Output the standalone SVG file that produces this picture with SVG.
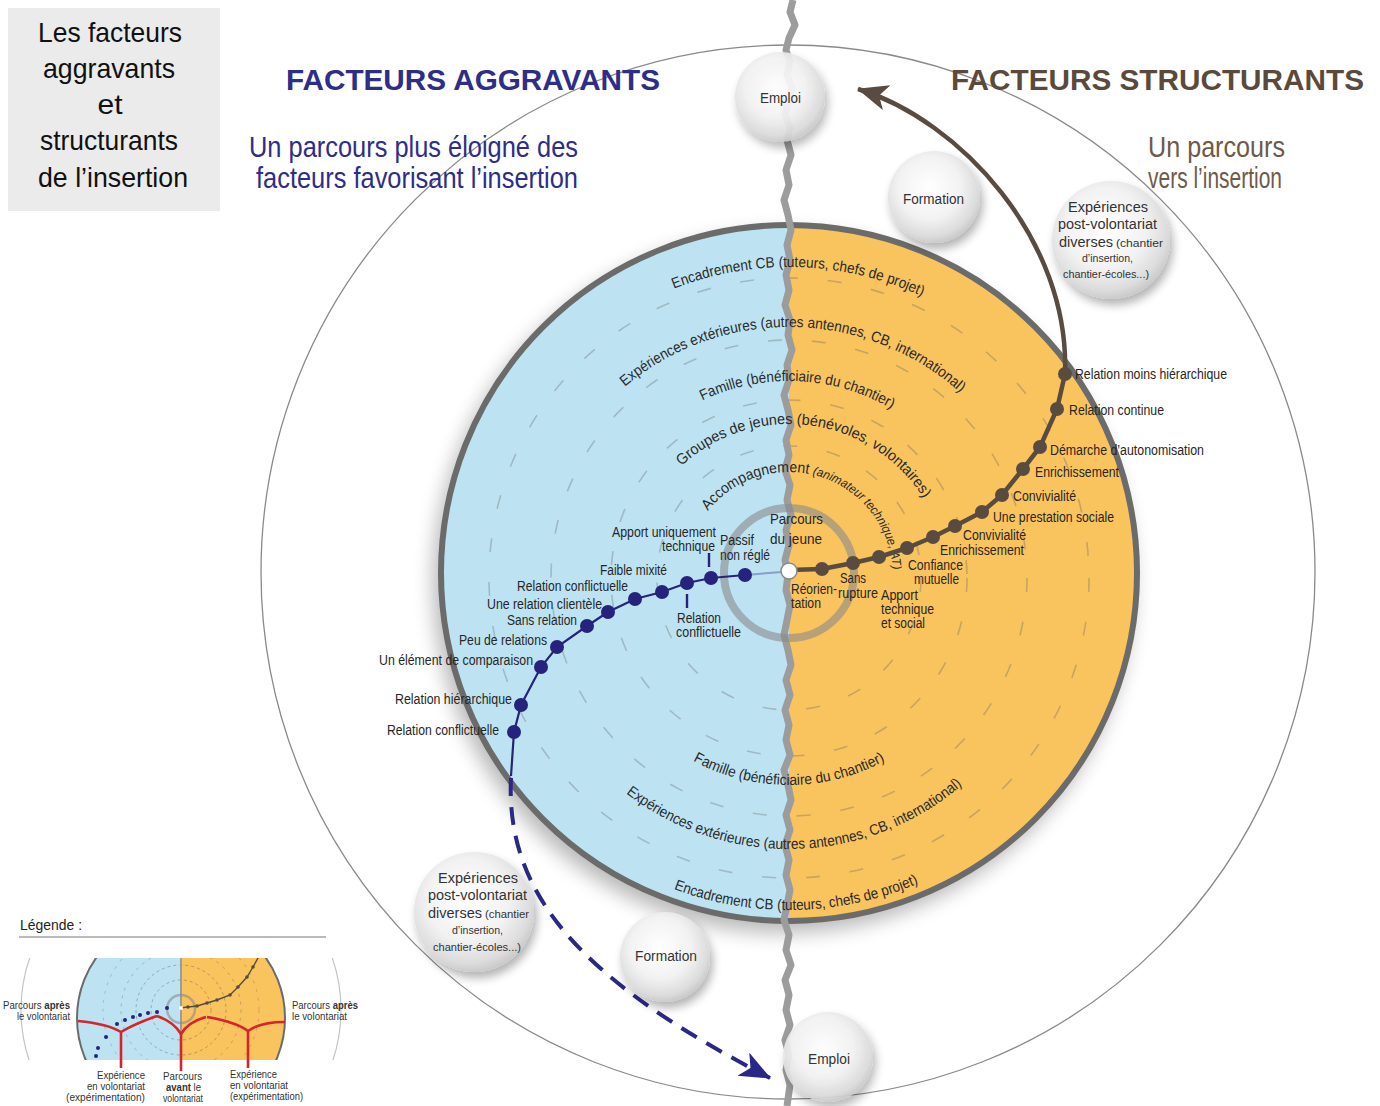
<svg xmlns="http://www.w3.org/2000/svg" width="1380" height="1106" viewBox="0 0 1380 1106">
<defs>
<style>
text{font-family:"Liberation Sans",Arial,sans-serif}
.lbl{font-size:14px;fill:#262626}
.rl{font-size:14px;fill:#2b2521}
.arc{font-size:15px;fill:#2a2a2a}
.bt{font-size:14px;fill:#333}
.bs{font-size:11px;fill:#333}
.ring{fill:none;stroke:#6a6a6a;stroke-opacity:.35;stroke-width:1.6;stroke-dasharray:14 30}
.bub{fill:url(#bg);filter:url(#bsh)}
.nd{fill:#25237b}
.bd{fill:#5a4b40}
.lg{font-size:10px;fill:#333}
.red{fill:none;stroke:#d5252a;stroke-width:2.6}
</style>
<radialGradient id="bg" cx="0.45" cy="0.4" r="0.62">
<stop offset="0" stop-color="#ffffff"/><stop offset="0.55" stop-color="#f2f2f2"/><stop offset="0.85" stop-color="#dcdcdc"/><stop offset="1" stop-color="#c6c6c6"/>
</radialGradient>
<filter id="bsh" x="-40%" y="-40%" width="190%" height="190%">
<feGaussianBlur in="SourceAlpha" stdDeviation="5"/><feOffset dx="3" dy="6"/><feComponentTransfer><feFuncA type="linear" slope="0.3"/></feComponentTransfer>
<feMerge><feMergeNode/><feMergeNode in="SourceGraphic"/></feMerge></filter>
<filter id="dsh" x="-20%" y="-20%" width="140%" height="140%">
<feGaussianBlur stdDeviation="10"/></filter>
<clipPath id="disc"><circle cx="789" cy="573" r="348"/></clipPath>
<clipPath id="mini"><rect x="0" y="958" width="370" height="102"/></clipPath>
<clipPath id="minidisc"><circle cx="181" cy="1018" r="104"/></clipPath>
<path id="tA" d="M473,583 A316,316 0 0 1 1105,583"/>
<path id="tB" d="M533,583 A256,256 0 0 1 1045,583"/>
<path id="tC" d="M587,583 A202,202 0 0 1 991,583"/>
<path id="tD" d="M630,583 A159,159 0 0 1 948,583"/>
<path id="tE" d="M737,666.1 A104,104 0 1 1 841,666.1"/>
<path id="bF" d="M587,583 A202,202 0 0 0 991,583"/>
<path id="bG" d="M523,583 A266,266 0 0 0 1055,583"/>
<path id="bH" d="M462,583 A327,327 0 0 0 1116,583"/>
<marker id="ahB" markerUnits="userSpaceOnUse" markerWidth="34" markerHeight="28" refX="30" refY="13" orient="auto"><path d="M0,0 L31,13 L0,26 L8,13 z" fill="#5a4b40"/></marker>
<marker id="ahN" markerUnits="userSpaceOnUse" markerWidth="34" markerHeight="28" refX="30" refY="13" orient="auto"><path d="M0,0 L31,13 L0,26 L8,13 z" fill="#2a2886"/></marker>
</defs>

<rect width="1380" height="1106" fill="#ffffff"/>

<g id="title-box">
<rect x="8" y="8" width="212" height="203" fill="#ebebeb"/>
<text x="110" y="42" font-size="28" text-anchor="middle" fill="#111" textLength="144" lengthAdjust="spacingAndGlyphs">Les facteurs</text>
<text x="109" y="78" font-size="28" text-anchor="middle" fill="#111" textLength="132" lengthAdjust="spacingAndGlyphs">aggravants</text>
<text x="110" y="114" font-size="28" text-anchor="middle" fill="#111" textLength="25" lengthAdjust="spacingAndGlyphs">et</text>
<text x="109" y="150" font-size="28" text-anchor="middle" fill="#111" textLength="138" lengthAdjust="spacingAndGlyphs">structurants</text>
<text x="113" y="187" font-size="28" text-anchor="middle" fill="#111" textLength="150" lengthAdjust="spacingAndGlyphs">de l’insertion</text>
</g>

<circle id="outer-circle" cx="788" cy="572" r="527" fill="none" stroke="#8a8a8a" stroke-width="1.3"/>

<g id="headings">
<text x="286" y="90" font-size="29" font-weight="bold" fill="#2e2d87" textLength="374" lengthAdjust="spacingAndGlyphs">FACTEURS AGGRAVANTS</text>
<text x="951" y="90" font-size="29" font-weight="bold" fill="#5b4a3c" textLength="413" lengthAdjust="spacingAndGlyphs">FACTEURS STRUCTURANTS</text>
<text x="249" y="157" font-size="29" fill="#2e2d87" textLength="329" lengthAdjust="spacingAndGlyphs">Un parcours plus éloigné des</text>
<text x="256" y="188" font-size="29" fill="#2e2d87" textLength="322" lengthAdjust="spacingAndGlyphs">facteurs favorisant l’insertion</text>
<text x="1148" y="157" font-size="29" fill="#6e5a48" textLength="137" lengthAdjust="spacingAndGlyphs">Un parcours</text>
<text x="1148" y="188" font-size="29" fill="#6e5a48" textLength="134" lengthAdjust="spacingAndGlyphs">vers l’insertion</text>
</g>

<g id="disc">
<circle cx="783" cy="583" r="350" fill="#000" opacity="0.28" filter="url(#dsh)"/>
<g clip-path="url(#disc)">
<rect x="430" y="215" width="359" height="720" fill="#bde3f3"/>
<rect x="789" y="215" width="360" height="720" fill="#f9c35e"/>
<circle class="ring" cx="789" cy="578" r="300"/>
<circle class="ring" cx="789" cy="578" r="238"/>
<circle class="ring" cx="789" cy="578" r="178"/>
<circle class="ring" cx="789" cy="578" r="132"/>
</g>
<circle cx="789" cy="573" r="348" fill="none" stroke="#6b6b6b" stroke-width="6"/>
</g>

<path id="divider" d="M793,0 L790,12 L795,25 L789,38 L786,50 L790,62 L787,75 L792,88 L788,100 L785,115 L790,128 L787,140 L791,155 L786,170 L789,185 L784,200 L788,215 L791,230 L787,245 L790,260 L786,275 L789,290 L785,305 L790,320 L788,335 L792,350 L787,365 L789,380 L784,395 L788,410 L791,425 L786,440 L789,455 L785,470 L790,485 L787,500 L791,515 L786,530 L789,545 L785,560 L788,575 L786,590 L790,605 L787,620 L784,635 L788,650 L791,665 L786,680 L790,695 L785,710 L789,725 L786,740 L790,755 L784,770 L788,785 L791,800 L786,815 L790,830 L785,845 L789,860 L786,875 L790,890 L787,905 L784,920 L789,935 L786,950 L791,965 L785,980 L789,995 L786,1010 L790,1025 L785,1040 L789,1055 L786,1070 L790,1085 L787,1106" fill="none" stroke="#9c9c9c" stroke-width="7" stroke-linejoin="round"/>

<circle id="center-ring" cx="789" cy="573" r="65" fill="none" stroke="#8a8a8a" stroke-opacity="0.6" stroke-width="8"/>

<g id="ring-labels">
<text class="arc"><textPath href="#tA" startOffset="505.8" text-anchor="middle" textLength="255" lengthAdjust="spacingAndGlyphs">Encadrement CB (tuteurs, chefs de projet)</textPath></text>
<text class="arc"><textPath href="#tB" startOffset="406.6" text-anchor="middle" textLength="366" lengthAdjust="spacingAndGlyphs">Expériences extérieures (autres antennes, CB, international)</textPath></text>
<text class="arc"><textPath href="#tC" startOffset="326.1" text-anchor="middle" textLength="197" lengthAdjust="spacingAndGlyphs">Famille (bénéficiaire du chantier)</textPath></text>
<text class="arc"><textPath href="#tD" startOffset="270.8" text-anchor="middle" textLength="279" lengthAdjust="spacingAndGlyphs">Groupes de jeunes (bénévoles, volontaires)</textPath></text>
<text class="arc"><textPath href="#tE" startOffset="304" text-anchor="middle" textLength="250" lengthAdjust="spacingAndGlyphs">Accompagnement <tspan font-size="12.5" font-style="italic">(animateur technique, AT)</tspan></textPath></text>
<text class="arc"><textPath href="#bF" startOffset="317.3" text-anchor="middle" textLength="200" lengthAdjust="spacingAndGlyphs">Famille (bénéficiaire du chantier)</textPath></text>
<text class="arc"><textPath href="#bG" startOffset="424.3" text-anchor="middle" textLength="364" lengthAdjust="spacingAndGlyphs">Expériences extérieures (autres antennes, CB, international)</textPath></text>
<text class="arc"><textPath href="#bH" startOffset="521.1" text-anchor="middle" textLength="251" lengthAdjust="spacingAndGlyphs">Encadrement CB (tuteurs, chefs de projet)</textPath></text>
</g>

<g id="connectors">
<path d="M782,572 L745,575" fill="none" stroke="#25237b" stroke-opacity="0.35" stroke-width="2"/>
<path d="M745,575 L711,578 L687,583 L662,592 L635,599 L608,612 L587,626 L557,647 L541,667 L521,705 L514,732 L511,776" fill="none" stroke="#25237b" stroke-width="2.2"/>
<path d="M511,778 C505,900 590,985 770,1078" fill="none" stroke="#2a2886" stroke-width="4" stroke-dasharray="18 11" marker-end="url(#ahN)"/>
<path d="M709,553 V567 M687,594 V608" fill="none" stroke="#25237b" stroke-width="2.4"/>
<path d="M789,570 L822,569 L853,563 L879,557 L907,548 L933,537 L955,526 L982,512 L1002,495 L1023,469 L1040,447 L1057,409 L1065,374 C1070,240 960,120 858,89" fill="none" stroke="#5a4b40" stroke-width="4.5" stroke-linejoin="round" marker-end="url(#ahB)"/>
</g>

<g id="dots-aggravants">
<circle class="nd" cx="745" cy="575" r="7"/><circle class="nd" cx="711" cy="578" r="7"/><circle class="nd" cx="687" cy="583" r="7"/><circle class="nd" cx="662" cy="592" r="7"/><circle class="nd" cx="635" cy="599" r="7"/><circle class="nd" cx="608" cy="612" r="7"/><circle class="nd" cx="587" cy="626" r="7"/><circle class="nd" cx="557" cy="647" r="7"/><circle class="nd" cx="541" cy="667" r="7"/><circle class="nd" cx="521" cy="705" r="7"/><circle class="nd" cx="514" cy="732" r="7"/>
</g>
<g id="dots-structurants">
<circle class="bd" cx="822" cy="569" r="7"/><circle class="bd" cx="853" cy="563" r="7"/><circle class="bd" cx="879" cy="557" r="7"/><circle class="bd" cx="907" cy="548" r="7"/><circle class="bd" cx="933" cy="537" r="7"/><circle class="bd" cx="955" cy="526" r="7"/><circle class="bd" cx="982" cy="512" r="7"/><circle class="bd" cx="1002" cy="495" r="7"/><circle class="bd" cx="1023" cy="469" r="7"/><circle class="bd" cx="1040" cy="447" r="7"/><circle class="bd" cx="1057" cy="409" r="7"/><circle class="bd" cx="1065" cy="374" r="7"/>
</g>
<circle id="center-dot" cx="789" cy="571" r="8" fill="#fff" stroke="#888" stroke-width="1.5"/>

<g id="center-label">
<text x="770" y="524" font-size="15" fill="#262626" textLength="53" lengthAdjust="spacingAndGlyphs">Parcours</text>
<text x="770" y="544" font-size="15" fill="#262626" textLength="52" lengthAdjust="spacingAndGlyphs">du jeune</text>
</g>

<g id="labels-aggravants">
<text class="lbl" x="600" y="575" textLength="67" lengthAdjust="spacingAndGlyphs">Faible mixité</text>
<text class="lbl" x="517" y="591" textLength="111" lengthAdjust="spacingAndGlyphs">Relation conflictuelle</text>
<text class="lbl" x="487" y="609" textLength="115" lengthAdjust="spacingAndGlyphs">Une relation clientèle</text>
<text class="lbl" x="507" y="625" textLength="70" lengthAdjust="spacingAndGlyphs">Sans relation</text>
<text class="lbl" x="459" y="645" textLength="88" lengthAdjust="spacingAndGlyphs">Peu de relations</text>
<text class="lbl" x="379" y="665" textLength="154" lengthAdjust="spacingAndGlyphs">Un élément de comparaison</text>
<text class="lbl" x="395" y="704" textLength="117" lengthAdjust="spacingAndGlyphs">Relation hiérarchique</text>
<text class="lbl" x="387" y="735" textLength="112" lengthAdjust="spacingAndGlyphs">Relation conflictuelle</text>
<text class="lbl" x="612" y="537" textLength="104" lengthAdjust="spacingAndGlyphs">Apport uniquement</text>
<text class="lbl" x="662" y="551" textLength="53" lengthAdjust="spacingAndGlyphs">technique</text>
<text class="lbl" x="720" y="545" textLength="34" lengthAdjust="spacingAndGlyphs">Passif</text>
<text class="lbl" x="720" y="560" textLength="50" lengthAdjust="spacingAndGlyphs">non réglé</text>
<text class="lbl" x="677" y="623" textLength="44" lengthAdjust="spacingAndGlyphs">Relation</text>
<text class="lbl" x="676" y="637" textLength="65" lengthAdjust="spacingAndGlyphs">conflictuelle</text>
</g>

<g id="labels-structurants">
<text class="rl" x="791" y="594" textLength="46" lengthAdjust="spacingAndGlyphs">Réorien-</text>
<text class="rl" x="791" y="608" textLength="30" lengthAdjust="spacingAndGlyphs">tation</text>
<text class="rl" x="840" y="583" textLength="26" lengthAdjust="spacingAndGlyphs">Sans</text>
<text class="rl" x="838" y="598" textLength="40" lengthAdjust="spacingAndGlyphs">rupture</text>
<text class="rl" x="881" y="600" textLength="37" lengthAdjust="spacingAndGlyphs">Apport</text>
<text class="rl" x="881" y="614" textLength="53" lengthAdjust="spacingAndGlyphs">technique</text>
<text class="rl" x="881" y="628" textLength="44" lengthAdjust="spacingAndGlyphs">et social</text>
<text class="rl" x="908" y="570" textLength="55" lengthAdjust="spacingAndGlyphs">Confiance</text>
<text class="rl" x="914" y="584" textLength="45" lengthAdjust="spacingAndGlyphs">mutuelle</text>
<text class="rl" x="940" y="555" textLength="84" lengthAdjust="spacingAndGlyphs">Enrichissement</text>
<text class="rl" x="963" y="540" textLength="63" lengthAdjust="spacingAndGlyphs">Convivialité</text>
<text class="rl" x="993" y="522" textLength="121" lengthAdjust="spacingAndGlyphs">Une prestation sociale</text>
<text class="rl" x="1013" y="501" textLength="63" lengthAdjust="spacingAndGlyphs">Convivialité</text>
<text class="rl" x="1035" y="477" textLength="84" lengthAdjust="spacingAndGlyphs">Enrichissement</text>
<text class="rl" x="1050" y="455" textLength="154" lengthAdjust="spacingAndGlyphs">Démarche d’autonomisation</text>
<text class="rl" x="1069" y="415" textLength="95" lengthAdjust="spacingAndGlyphs">Relation continue</text>
<text class="rl" x="1075" y="379" textLength="152" lengthAdjust="spacingAndGlyphs">Relation moins hiérarchique</text>
</g>

<g id="bubble-emploi-top">
<circle class="bub" cx="780" cy="97" r="45" fill-opacity="0.92"/>
<text class="bt" x="760" y="103" textLength="41" lengthAdjust="spacingAndGlyphs">Emploi</text>
</g>
<g id="bubble-formation-top">
<circle class="bub" cx="934" cy="197" r="46"/>
<text class="bt" x="903" y="204" textLength="61" lengthAdjust="spacingAndGlyphs">Formation</text>
</g>
<g id="bubble-experiences-top">
<circle class="bub" cx="1111" cy="240" r="59"/>
<text class="bt" x="1068" y="212" textLength="80" lengthAdjust="spacingAndGlyphs">Expériences</text>
<text class="bt" x="1058" y="229" textLength="99" lengthAdjust="spacingAndGlyphs">post-volontariat</text>
<text class="bt" x="1059" y="247" textLength="54" lengthAdjust="spacingAndGlyphs">diverses</text>
<text class="bs" x="1116" y="247" textLength="47" lengthAdjust="spacingAndGlyphs">(chantier</text>
<text class="bs" x="1082" y="262" textLength="51" lengthAdjust="spacingAndGlyphs">d’insertion,</text>
<text class="bs" x="1063" y="278" textLength="86" lengthAdjust="spacingAndGlyphs">chantier-écoles...)</text>
</g>
<g id="bubble-experiences-bottom">
<circle class="bub" cx="474" cy="912" r="60"/>
<text class="bt" x="438" y="883" textLength="80" lengthAdjust="spacingAndGlyphs">Expériences</text>
<text class="bt" x="428" y="900" textLength="99" lengthAdjust="spacingAndGlyphs">post-volontariat</text>
<text class="bt" x="428" y="918" textLength="54" lengthAdjust="spacingAndGlyphs">diverses</text>
<text class="bs" x="485" y="918" textLength="44" lengthAdjust="spacingAndGlyphs">(chantier</text>
<text class="bs" x="452" y="934" textLength="51" lengthAdjust="spacingAndGlyphs">d’insertion,</text>
<text class="bs" x="433" y="951" textLength="88" lengthAdjust="spacingAndGlyphs">chantier-écoles...)</text>
</g>
<g id="bubble-formation-bottom">
<circle class="bub" cx="665" cy="957" r="45"/>
<text class="bt" x="635" y="961" textLength="62" lengthAdjust="spacingAndGlyphs">Formation</text>
</g>
<g id="bubble-emploi-bottom">
<circle class="bub" cx="828" cy="1057" r="45" fill-opacity="0.92"/>
<text class="bt" x="808" y="1064" textLength="42" lengthAdjust="spacingAndGlyphs">Emploi</text>
</g>

<g id="legend">
<text x="20" y="930" font-size="15" fill="#222" textLength="62" lengthAdjust="spacingAndGlyphs">Légende :</text>
<line x1="19" y1="937" x2="326" y2="937" stroke="#777" stroke-width="1.2"/>
<g clip-path="url(#mini)">
<circle cx="181" cy="1010" r="160" fill="none" stroke="#c4c4c4" stroke-width="1.2"/>
<g clip-path="url(#minidisc)">
<rect x="70" y="900" width="111" height="230" fill="#bde3f3"/>
<rect x="181" y="900" width="111" height="230" fill="#f9c35e"/>
<circle cx="181" cy="1010" r="30" fill="none" stroke="#555" stroke-opacity="0.5" stroke-width="0.8" stroke-dasharray="3 3"/>
<circle cx="181" cy="1010" r="45" fill="none" stroke="#555" stroke-opacity="0.5" stroke-width="0.8" stroke-dasharray="3 3"/>
<circle cx="181" cy="1010" r="60" fill="none" stroke="#555" stroke-opacity="0.4" stroke-width="0.8" stroke-dasharray="3 5"/>
<circle cx="181" cy="1010" r="78" fill="none" stroke="#555" stroke-opacity="0.35" stroke-width="0.8" stroke-dasharray="3 6"/>
</g>
<circle cx="181" cy="1018" r="104" fill="none" stroke="#6b6b6b" stroke-width="2"/>
<line x1="181" y1="958" x2="181" y2="1060" stroke="#9c9c9c" stroke-width="2"/>
<circle cx="181" cy="1009" r="14" fill="none" stroke="#8a8a8a" stroke-opacity="0.6" stroke-width="2.5"/>
<path d="M180,1008 L188,1007 L197,1006 L207,1003 L217,1000 L230,995 L238,987 L247,977 L253,967 L258,958" fill="none" stroke="#5a4b40" stroke-width="1.4"/>
<g class="bd"><circle cx="188" cy="1007" r="1.8"/><circle cx="197" cy="1006" r="1.8"/><circle cx="207" cy="1003" r="1.8"/><circle cx="217" cy="1000" r="1.8"/><circle cx="230" cy="995" r="1.8"/><circle cx="238" cy="987" r="1.8"/><circle cx="247" cy="977" r="1.8"/><circle cx="253" cy="967" r="1.8"/></g>
<g class="nd"><circle cx="167" cy="1008" r="2"/><circle cx="157" cy="1012" r="2"/><circle cx="148" cy="1013" r="2"/><circle cx="140" cy="1015" r="2"/><circle cx="133" cy="1017" r="2"/><circle cx="125" cy="1020" r="2"/><circle cx="117" cy="1024" r="2"/><circle cx="106" cy="1037" r="2"/><circle cx="98" cy="1048" r="2"/><circle cx="96" cy="1056" r="2"/></g>
<circle cx="181" cy="1008" r="2" fill="#fff"/>
</g>
<path class="red" d="M78,1021 Q108,1024 121,1032 Q134,1024 157,1016"/>
<path class="red" d="M121,1031 V1068"/>
<path class="red" d="M157,1016 Q174,1022 181,1034 Q188,1022 206,1017"/>
<path class="red" d="M181,1033 V1071"/>
<path class="red" d="M207,1017 Q236,1022 248,1031 Q260,1022 285,1022"/>
<path class="red" d="M248,1030 V1068"/>
<text class="lg" x="3" y="1009" textLength="67" lengthAdjust="spacingAndGlyphs">Parcours <tspan font-weight="bold">après</tspan></text>
<text class="lg" x="17" y="1020" textLength="53" lengthAdjust="spacingAndGlyphs">le volontariat</text>
<text class="lg" x="292" y="1009" textLength="66" lengthAdjust="spacingAndGlyphs">Parcours <tspan font-weight="bold">après</tspan></text>
<text class="lg" x="292" y="1020" textLength="55" lengthAdjust="spacingAndGlyphs">le volontariat</text>
<text class="lg" x="97" y="1079" textLength="48" lengthAdjust="spacingAndGlyphs">Expérience</text>
<text class="lg" x="87" y="1090" textLength="58" lengthAdjust="spacingAndGlyphs">en volontariat</text>
<text class="lg" x="66" y="1101" textLength="79" lengthAdjust="spacingAndGlyphs">(expérimentation)</text>
<text class="lg" x="163" y="1080" textLength="39" lengthAdjust="spacingAndGlyphs">Parcours</text>
<text class="lg" x="166" y="1091" textLength="35" lengthAdjust="spacingAndGlyphs"><tspan font-weight="bold">avant</tspan> le</text>
<text class="lg" x="163" y="1102" textLength="40" lengthAdjust="spacingAndGlyphs">volontariat</text>
<text class="lg" x="230" y="1078" textLength="47" lengthAdjust="spacingAndGlyphs">Expérience</text>
<text class="lg" x="230" y="1089" textLength="58" lengthAdjust="spacingAndGlyphs">en volontariat</text>
<text class="lg" x="230" y="1100" textLength="73" lengthAdjust="spacingAndGlyphs">(expérimentation)</text>
</g>
</svg>
